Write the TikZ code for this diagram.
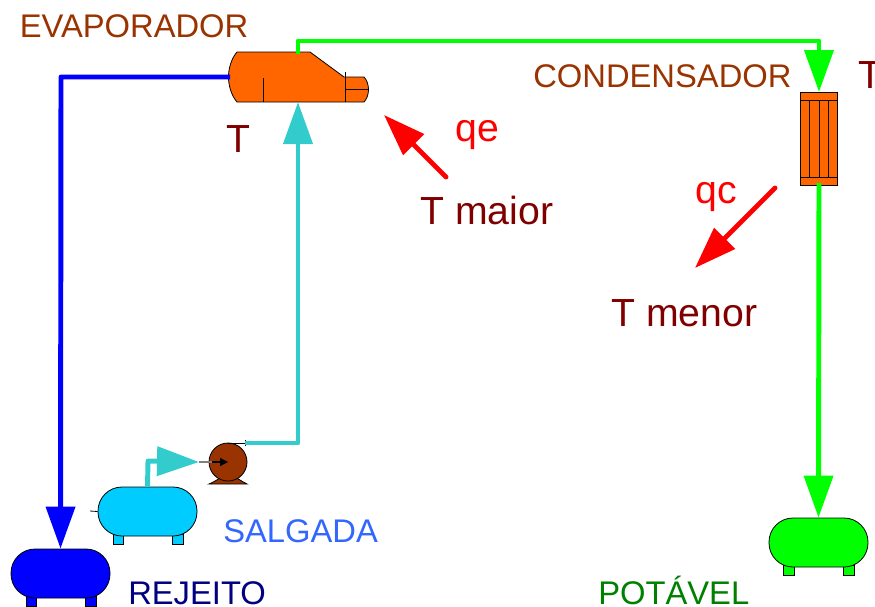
\documentclass[tikz,border=0pt]{standalone}
\usepackage{fontspec}
\setmainfont{Liberation Sans}
\usetikzlibrary{arrows.meta}
\definecolor{evapc}{HTML}{FF6600}
\definecolor{labbrown}{HTML}{993300}
\definecolor{darkred}{HTML}{800000}
\definecolor{cyanpipe}{HTML}{33CCCC}
\definecolor{salt}{HTML}{00CCFF}
\definecolor{saltlab}{HTML}{3366FF}
\definecolor{greenlab}{HTML}{008000}
\definecolor{navylab}{HTML}{000080}
\definecolor{pumpc}{HTML}{993300}
\tikzset{
  x=0.75pt,y=-0.75pt,
  pipe/.style={line width=3.7pt,line join=round,-{Triangle[length=31.5pt,width=21.5pt]}},
  tank/.style={draw=black,line width=0.6pt,rectangle,rounded corners=18pt,minimum width=74.25pt,minimum height=36.75pt,inner sep=0pt},
  foot/.style={draw=black,line width=0.5pt},
  equip/.style={draw=black,line width=0.6pt,fill=evapc},
  fine/.style={draw=black,line width=0.6pt},
  heat/.style={draw=red,line width=3.7pt,line cap=round,-{Triangle[length=31.5pt,width=21.5pt]}},
  lab/.style={anchor=base west,inner sep=0pt,font=\fontsize{24.55pt}{24.55pt}\selectfont},
  bigl/.style={anchor=base west,inner sep=0pt,font=\fontsize{29.4pt}{29.4pt}\selectfont},
}
\begin{document}
\begin{tikzpicture}
\useasboundingbox (0,0) rectangle (875,607);
% ports
\coordinate (evL) at (230,77);
\coordinate (evT) at (298,54);
\coordinate (evB) at (298,102);
\coordinate (cdT) at (819,92);
\coordinate (cdB) at (819,183);
\coordinate (cn1) at (61,77);
\coordinate (cn2) at (298,41);
\coordinate (cn3) at (819,41);
\coordinate (cn4) at (148,461);
\coordinate (cn5) at (298,443);
\coordinate (pmpOut) at (245,443);
\coordinate (pmpIn) at (199,462);
\coordinate (qeS) at (446,177);
\coordinate (qeE) at (384,115);
\coordinate (qcS) at (775,188);
\coordinate (qcE) at (695,268);
% feet
\draw[foot,fill=blue] (26,596) rectangle (36,606);
\draw[foot,fill=blue] (85,596) rectangle (96,606);
\draw[foot,fill=salt] (113,534) rectangle (123,544);
\draw[foot,fill=salt] (172,534) rectangle (183,544);
\draw[foot,fill=green] (783,565) rectangle (794,575);
\draw[foot,fill=green] (843,565) rectangle (854,575);
% tanks
\node[tank,fill=blue] (rej) at (60.5,573.5) {};
\node[tank,fill=salt] (sal) at (147.5,511.5) {};
\node[tank,fill=green] (pot) at (818.5,542.5) {};
\draw[fine] (90,511) -- (sal.west);
% evaporator
\draw[equip,line join=round] (237,52) -- (310,52) -- (344,77) -- (364,77)
  .. controls (367,80) and (368.5,85) .. (368.5,89.5)
  .. controls (368.5,94) and (367,99) .. (364,102) -- (237,102)
  .. controls (231,95) and (228.5,85) .. (228.5,77)
  .. controls (228.5,69) and (231,59) .. (237,52) -- cycle;
\draw[fine] (263,78) -- (263,102);
\draw[fine] (345,72) -- (345,102);
\draw[fine] (345,89) -- (368,89);
% condenser
\node[equip,rectangle,minimum width=27.75pt,minimum height=69.75pt,inner sep=0pt] (cond) at (818.5,138.5) {};
\draw[fine] (800,100) -- (837,100);
\draw[fine] (800,177) -- (837,177);
\draw[fine] (809.5,100) -- (809.5,177);
\draw[fine] (819,100) -- (819,177);
\draw[fine] (828,100) -- (828,177);
% pump
\draw[draw=black,line width=0.6pt,fill=pumpc] (209,484) .. controls (216,481) and (220,478) .. (222,476) -- (234,476) .. controls (237,478) and (241,481) .. (247,484) -- cycle;
\node[draw=black,line width=0.6pt,fill=pumpc,circle,minimum size=28.5pt,inner sep=0pt] (pump) at (228,462) {};
\draw[fine] (228,443) -- (pmpOut);
\draw[fine] (pmpOut) ++(0,-3) -- ++(0,6);
% pipes
\draw[pipe,draw=blue] (evL) -- (cn1) -- (rej.north);
\draw[pipe,draw=green] (evT) -- (cn2) -- (cn3) -- (cdT);
\draw[pipe,draw=green] (cdB) -- (pot.north);
\draw[pipe,draw=cyanpipe] (pmpOut) -- (cn5) -- (evB);
\draw[pipe,draw=cyanpipe] (sal.north) -- (cn4) -- (pmpIn);
\draw[line width=1pt,draw=gray] (pmpIn) -- (212,462);
\draw[line width=0.9pt,-{Triangle[length=6pt,width=6pt]}] (212,462) -- (pump.center);
% heat arrows
\draw[heat] (qeS) -- (qeE);
\draw[heat] (qcS) -- (qcE);
% labels
\node[lab,text=labbrown] (tEv) at (19.5,37) {EVAPORADOR};
\node[lab,text=labbrown] (tCd) at (533,87) {CONDENSADOR};
\node[lab,text=saltlab] (tSa) at (223,542) {SALGADA};
\node[lab,text=navylab] (tRe) at (128,604) {REJEITO};
\node[lab,text=greenlab] (tPo) at (598,604) {POTÁVEL};
\node[bigl,text=darkred] (tT1) at (226,152) {T};
\node[bigl,text=darkred] (tT2) at (858,88) {T};
\node[bigl,text=darkred] (tMa) at (420,224) {T maior};
\node[bigl,text=darkred] (tMe) at (611,326) {T menor};
\node[bigl,text=red] (tQe) at (455,141) {qe};
\node[bigl,text=red] (tQc) at (695,203) {qc};
\end{tikzpicture}
\end{document}
